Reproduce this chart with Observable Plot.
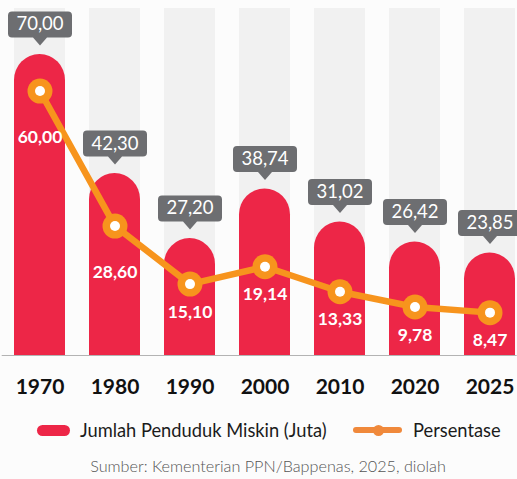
<!DOCTYPE html>
<html>
<head>
<meta charset="utf-8">
<script src="https://cdn.jsdelivr.net/npm/d3@7"></script>
<script src="https://cdn.jsdelivr.net/npm/@observablehq/plot@0.6"></script>
<style>
  html, body { margin: 0; padding: 0; background: #fcfcfc; }
  body { width: 517px; height: 479px; position: relative; font-family: Lato, "Noto Sans", sans-serif; overflow: hidden; }
  #chart { position: absolute; left: 0; top: 0; }
  .lg { position: absolute; }
  .txt { font-size: 18.3px; color: #1b1b1b; line-height: 1; white-space: nowrap; }
  #src { position: absolute; left: 0; width: 536px; text-align: center; top: 456px; font-size: 16.2px; font-weight: 300; color: #555; white-space: nowrap; }
</style>
</head>
<body>
<div id="chart"></div>
<div class="lg" style="left:37px; top:424.5px; width:33px; height:11px; border-radius:6px; background:#ed2647;"></div>
<div class="lg txt" style="left:80px; top:420.5px;">Jumlah Penduduk Miskin (Juta)</div>
<div class="lg" style="left:353px; top:427px; width:49px; height:6px; border-radius:3px; background:#f0893b;"></div>
<div class="lg" style="left:372.5px; top:424.5px; width:11px; height:11px; border-radius:50%; background:#f0893b;"></div>
<div class="lg txt" style="left:413px; top:420.5px;">Persentase</div>
<div id="src">Sumber: Kementerian PPN/Bappenas, 2025, diolah</div>
<script>
const years = ["1970", "1980", "1990", "2000", "2010", "2020", "2025"];
const poorMillions = [70.00, 42.30, 27.20, 38.74, 31.02, 26.42, 23.85];
const poorPercent = [60.00, 28.60, 15.10, 19.14, 13.33, 9.78, 8.47];

const yMax = 80.7;        // top of the grey columns
const pctOffset = 1.5;    // percentage line drawn on the same axis, shifted slightly

const data = years.map((y, i) => ({year: y, value: poorMillions[i], pct: poorPercent[i], i}));
const fmt = v => v.toFixed(2).replace(".", ",");

const RED = "#ed2647", ORANGE = "#f7941d", BOX = "#6d6e71", COL = "#f1f1f1";

const callout = {
  draw(ctx) {
    const w = 32, top = -43, bot = -17, r = 4, tip = -9, tw = 7;
    ctx.moveTo(-w + r, top);
    ctx.lineTo(w - r, top); ctx.arcTo(w, top, w, top + r, r);
    ctx.lineTo(w, bot - r); ctx.arcTo(w, bot, w - r, bot, r);
    ctx.lineTo(tw, bot); ctx.lineTo(0, tip); ctx.lineTo(-tw, bot);
    ctx.lineTo(-w + r, bot); ctx.arcTo(-w, bot, -w, bot - r, r);
    ctx.lineTo(-w, top + r); ctx.arcTo(-w, top, -w + r, top, r);
    ctx.closePath();
  }
};

const chart = Plot.plot({
  width: 517,
  height: 405,
  marginTop: 8,
  marginBottom: 50,
  marginLeft: 12.7,
  marginRight: 0.3,
  style: {fontFamily: "Lato, 'Noto Sans', sans-serif", background: "transparent"},
  x: {domain: years, paddingInner: 0.316, paddingOuter: 0, label: null},
  y: {domain: [0, yMax], axis: null},
  marks: [
    Plot.barY(data, {x: "year", y1: () => 0, y2: () => yMax, fill: COL}),
    Plot.barY(data, {x: "year", y1: () => -15, y2: "value", fill: RED, rx: 26, clip: true}),
    Plot.ruleY([0], {stroke: "#b3b3b3", strokeWidth: 1.2, insetLeft: -11}),
    Plot.axisX({tickSize: 0, tickPadding: 24, fontSize: 21, fontWeight: "bold", fill: "#111", label: null}),
    Plot.dot(data, {x: "year", y: "value", symbol: callout, r: 5, fill: BOX, stroke: "none"}),
    Plot.text(data, {x: "year", y: "value", text: d => fmt(d.value), dy: -30, fill: "white", fontSize: 18.5}),
    Plot.line(data, {x: "year", y: d => d.pct + pctOffset, stroke: ORANGE, strokeWidth: 6.5}),
    Plot.dot(data, {x: "year", y: d => d.pct + pctOffset, r: 12.5, fill: ORANGE, stroke: "none"}),
    Plot.dot(data, {x: "year", y: d => d.pct + pctOffset, r: 5, fill: "white", stroke: "none"}),
    Plot.text(data.filter(d => d.i < 2), {x: "year", y: d => d.pct + pctOffset, text: d => fmt(d.pct), dy: 46, fill: "white", fontSize: 17.5, fontWeight: "bold"}),
    Plot.text(data.filter(d => d.i >= 2), {x: "year", y: d => d.pct + pctOffset, text: d => fmt(d.pct), dy: 28, fill: "white", fontSize: 17.5, fontWeight: "bold"})
  ]
});
document.getElementById("chart").appendChild(chart);
</script>
</body>
</html>
